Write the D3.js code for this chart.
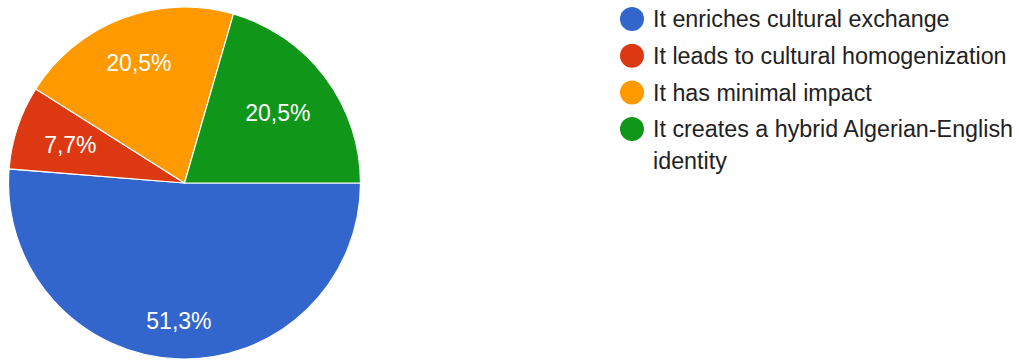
<!DOCTYPE html>
<html>
<head>
<meta charset="utf-8">
<script src="https://cdn.jsdelivr.net/npm/d3@7"></script>
<style>
  html, body { margin: 0; padding: 0; background: #fff; }
  svg { display: block; font-family: Arial, "Liberation Sans", sans-serif; }
</style>
</head>
<body>
<svg id="chart" width="1021" height="360"></svg>
<script>
// Survey answers and response counts (39 respondents)
const categories = [
  "It enriches cultural exchange",
  "It leads to cultural homogenization",
  "It has minimal impact",
  "It creates a hybrid Algerian-English identity"
];
const counts = [20, 3, 8, 8];
const colors = ["#3366cc", "#dc3912", "#ff9900", "#109618"];
const legendLines = [
  ["It enriches cultural exchange"],
  ["It leads to cultural homogenization"],
  ["It has minimal impact"],
  ["It creates a hybrid Algerian-English", "identity"]
];

const svg = d3.select("#chart");
const cx = 184.5, cy = 183, radius = 176;
const fontSize = 23;
const legendFont = 23.3;
const total = d3.sum(counts);
const fmt = v => (v * 100).toFixed(1).replace(".", ",") + "%";

// Pie starts at 3 o'clock and runs clockwise
const pie = d3.pie().sort(null).value(d => d)
  .startAngle(Math.PI / 2).endAngle(Math.PI / 2 + 2 * Math.PI);
const arcs = pie(counts);
const arc = d3.arc().innerRadius(0).outerRadius(radius);

const g = svg.append("g").attr("transform", `translate(${cx},${cy})`);
g.selectAll("path.slice")
  .data(arcs)
  .join("path")
  .attr("class", "slice")
  .attr("d", arc)
  .attr("fill", (d, i) => colors[i])
  .attr("stroke", "#fff")
  .attr("stroke-width", 1.2);

// Percentage labels: the outer corner of each label box sits on a fixed radius
const labelOuter = radius * 0.84;
g.selectAll("text.pct")
  .data(arcs)
  .join("text")
  .attr("class", "pct")
  .attr("text-anchor", "middle")
  .attr("fill", "#fff")
  .attr("font-size", fontSize)
  .text(d => fmt(d.value / total))
  .each(function (d) {
    const mid = (d.startAngle + d.endAngle) / 2;
    const ux = Math.sin(mid), uy = -Math.cos(mid);
    const hw = this.getComputedTextLength() / 2;
    const hh = fontSize * 0.36;
    const dist = labelOuter - (Math.abs(ux) * hw + Math.abs(uy) * hh);
    d3.select(this)
      .attr("x", ux * dist)
      .attr("y", uy * dist + hh);
  });

// Legend
const legendX = 632, legendY0 = 19, rowStep = 36.7, wrapStep = 32;
const legend = svg.append("g");
let y = legendY0;
categories.forEach((c, i) => {
  const row = legend.append("g");
  row.append("circle")
    .attr("cx", legendX).attr("cy", y).attr("r", 12)
    .attr("fill", colors[i]);
  const t = row.append("text")
    .attr("x", legendX + 21)
    .attr("y", y + legendFont * 0.36)
    .attr("font-size", legendFont)
    .attr("fill", "#222");
  legendLines[i].forEach((line, j) => {
    t.append("tspan")
      .attr("x", legendX + 21)
      .attr("dy", j === 0 ? 0 : wrapStep)
      .text(line);
  });
  y += rowStep;
});
</script>
</body>
</html>
